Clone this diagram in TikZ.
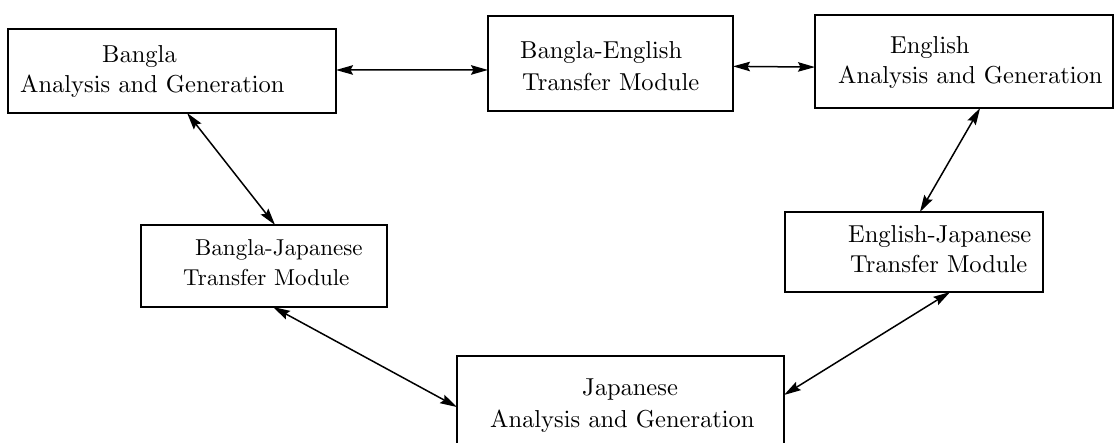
\documentclass[tikz,border=0pt]{standalone}
\usetikzlibrary{arrows.meta,calc}
% Computer Modern at its 10pt design size, scaled up
\font\bigrm=cmr10 at 24.5pt
\font\bigrmS=cmr10 at 23pt
\begin{document}
\begin{tikzpicture}[x=1pt,y=-1pt,
  box/.style={draw,line width=1.6pt,inner sep=0pt,outer sep=0pt},
  lbl/.style={anchor=base west,inner sep=0pt,font=\bigrm},
  lblsmall/.style={anchor=base west,inner sep=0pt,font=\bigrmS},
  link/.style={line width=1.5pt,{Stealth[length=17pt,width=9.5pt,inset=2.5pt]}-{Stealth[length=17pt,width=9.5pt,inset=2.5pt]}}]
\useasboundingbox (0,0) rectangle (1115,442);

% module boxes
\node[box,minimum width=328pt,minimum height=84pt] (ban) at (172,71) {};
\node[box,minimum width=245pt,minimum height=95pt] (be) at (610.5,63.5) {};
\node[box,minimum width=298pt,minimum height=93pt] (eng) at (964,61.5) {};
\node[box,minimum width=246pt,minimum height=82pt] (bj) at (264,266) {};
\node[box,minimum width=258pt,minimum height=80pt] (ej) at (914,252) {};
\node[box,minimum width=327pt,minimum height=88pt] (jap) at (620.5,400) {};

% labels
\node[lbl] (banA) at (102,62) {Bangla};
\node[lbl] (banB) at (20,92) {Analysis and Generation};
\node[lbl] (beA) at (520,58) {Bangla-English};
\node[lbl] (beB) at (522,90) {Transfer Module};
\node[lbl] (engA) at (890,53) {English};
\node[lbl] (engB) at (838,83) {Analysis and Generation};
\node[lblsmall] (bjA) at (195,255) {Bangla-Japanese};
\node[lblsmall] (bjB) at (183,285) {Transfer Module};
\node[lbl] (ejA) at (848,242) {English-Japanese};
\node[lbl] (ejB) at (850,272) {Transfer Module};
\node[lbl] (japA) at (582,395) {Japanese};
\node[lbl] (japB) at (490,427) {Analysis and Generation};

% connections
\draw[link] ($(ban.north east)!0.488!(ban.south east)$) -- ($(be.north west)!0.568!(be.south west)$);
\draw[link] ($(be.north east)!0.53!(be.south east)$) -- ($(eng.north west)!0.56!(eng.south west)$);
\draw[link] ($(ban.south west)!0.546!(ban.south east)$) -- ($(bj.north west)!0.545!(bj.north east)$);
\draw[link] ($(eng.south west)!0.554!(eng.south east)$) -- ($(ej.north west)!0.523!(ej.north east)$);
\draw[link] ($(bj.south west)!0.537!(bj.south east)$) -- ($(jap.north west)!0.58!(jap.south west)$);
\draw[link] ($(ej.south west)!0.64!(ej.south east)$) -- ($(jap.north east)!0.443!(jap.south east)$);
\end{tikzpicture}
\end{document}
